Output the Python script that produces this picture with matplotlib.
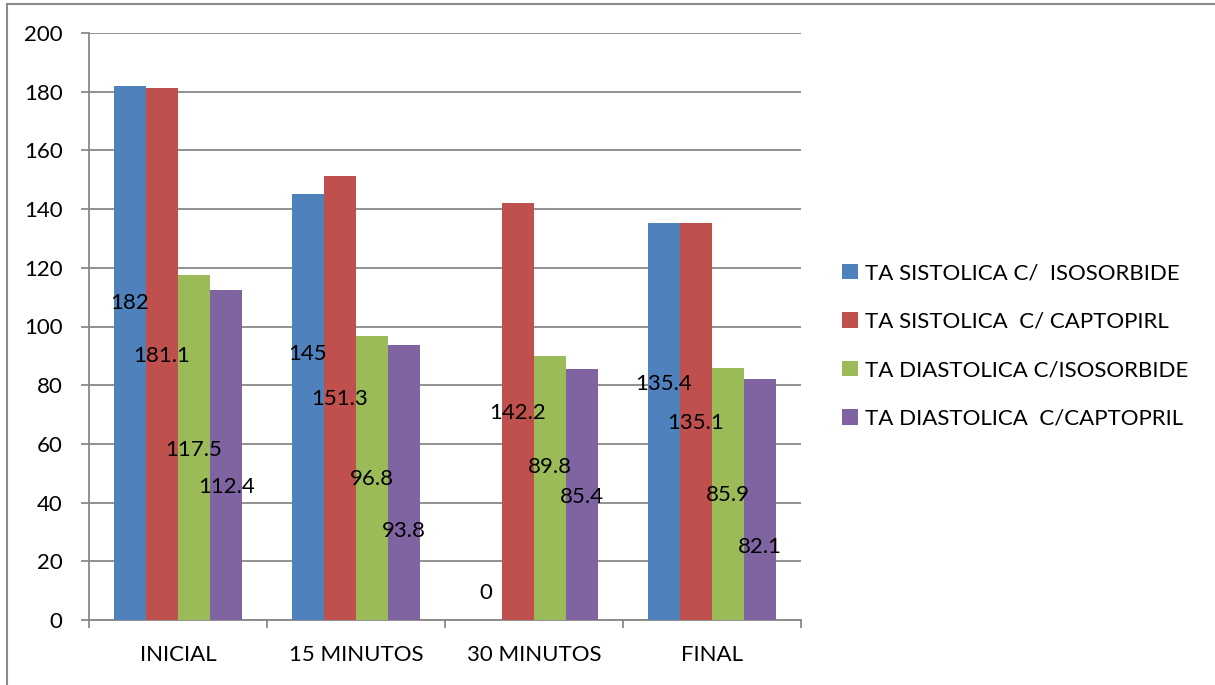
import numpy as np
import matplotlib.pyplot as plt
from matplotlib.lines import Line2D
from matplotlib.patches import Patch

plt.rcParams["font.family"] = ["Lato", "DejaVu Sans"]

categories = ["INICIAL", "15 MINUTOS", "30 MINUTOS", "FINAL"]
series_names = [
    "TA SISTOLICA C/  ISOSORBIDE",
    "TA SISTOLICA  C/ CAPTOPIRL",
    "TA DIASTOLICA C/ISOSORBIDE",
    "TA DIASTOLICA  C/CAPTOPRIL",
]
sis_isosorbide = [182, 145, 0, 135.4]
sis_captopril = [181.1, 151.3, 142.2, 135.1]
dia_isosorbide = [117.5, 96.8, 89.8, 85.9]
dia_captopril = [112.4, 93.8, 85.4, 82.1]

# heights where each value label sits (labels are staggered down the bars)
label_y = [
    [108, 90.5, 9.2, 80.3],
    [90, 75.2, 70.4, 67.0],
    [57.8, 48.0, 52.0, 42.5],
    [45.2, 30.3, 41.8, 24.8],
]

colors = ["#4F81BD", "#C0504D", "#9BBB59", "#8064A2"]
grid_gray = "#888888"
fs = 16

fig = plt.figure(figsize=(12.15, 6.85), dpi=100)
ax = fig.add_axes([89 / 1215, 65 / 685, 712 / 1215, 587 / 685])

x = np.arange(len(categories))
width = 0.181
all_series = [sis_isosorbide, sis_captopril, dia_isosorbide, dia_captopril]
for i, (vals, col) in enumerate(zip(all_series, colors)):
    pos = x + (i - 1.5) * width
    ax.bar(pos, vals, width=width, color=col, zorder=3)
    for px, v, ly in zip(pos, vals, label_y[i]):
        ax.text(px, ly, f"{v:g}", ha="center", va="center",
                fontsize=fs, color="black", zorder=4)

ax.set_xlim(-0.5, len(categories) - 0.5)
ax.set_ylim(0, 200)
ax.set_yticks(range(0, 201, 20))
ax.set_xticks(x)
ax.set_xticklabels(categories)
ax.set_xticks(np.arange(-0.5, len(categories), 1), minor=True)

ax.grid(axis="y", color=grid_gray, linewidth=1.3, zorder=0)
for side in ["top", "right"]:
    ax.spines[side].set_visible(False)
for side in ["left", "bottom"]:
    ax.spines[side].set_color(grid_gray)
    ax.spines[side].set_linewidth(1.3)

ax.tick_params(axis="y", length=6, width=1.3, color=grid_gray,
               labelsize=fs, pad=13)
ax.tick_params(axis="x", which="major", length=0, labelsize=fs, pad=18)
ax.tick_params(axis="x", which="minor", length=6, width=1.3, color=grid_gray)

handles = [Patch(facecolor=c, edgecolor="none") for c in colors]
fig.legend(handles, series_names, loc="center left",
           bbox_to_anchor=(822 / 1215, 1 - 346 / 685), frameon=False,
           fontsize=fs, handlelength=0.7, handleheight=0.7,
           handletextpad=0.33, labelspacing=1.28)

# chart area border
fig.add_artist(Line2D([7 / 1215, 7 / 1215], [0, 1 - 4 / 685],
                      transform=fig.transFigure, color="#8a8a8a", lw=1.5))
fig.add_artist(Line2D([7 / 1215, 1], [1 - 4 / 685, 1 - 4 / 685],
                      transform=fig.transFigure, color="#8a8a8a", lw=1.5))

fig.savefig("out.png", dpi=100, facecolor="white")
